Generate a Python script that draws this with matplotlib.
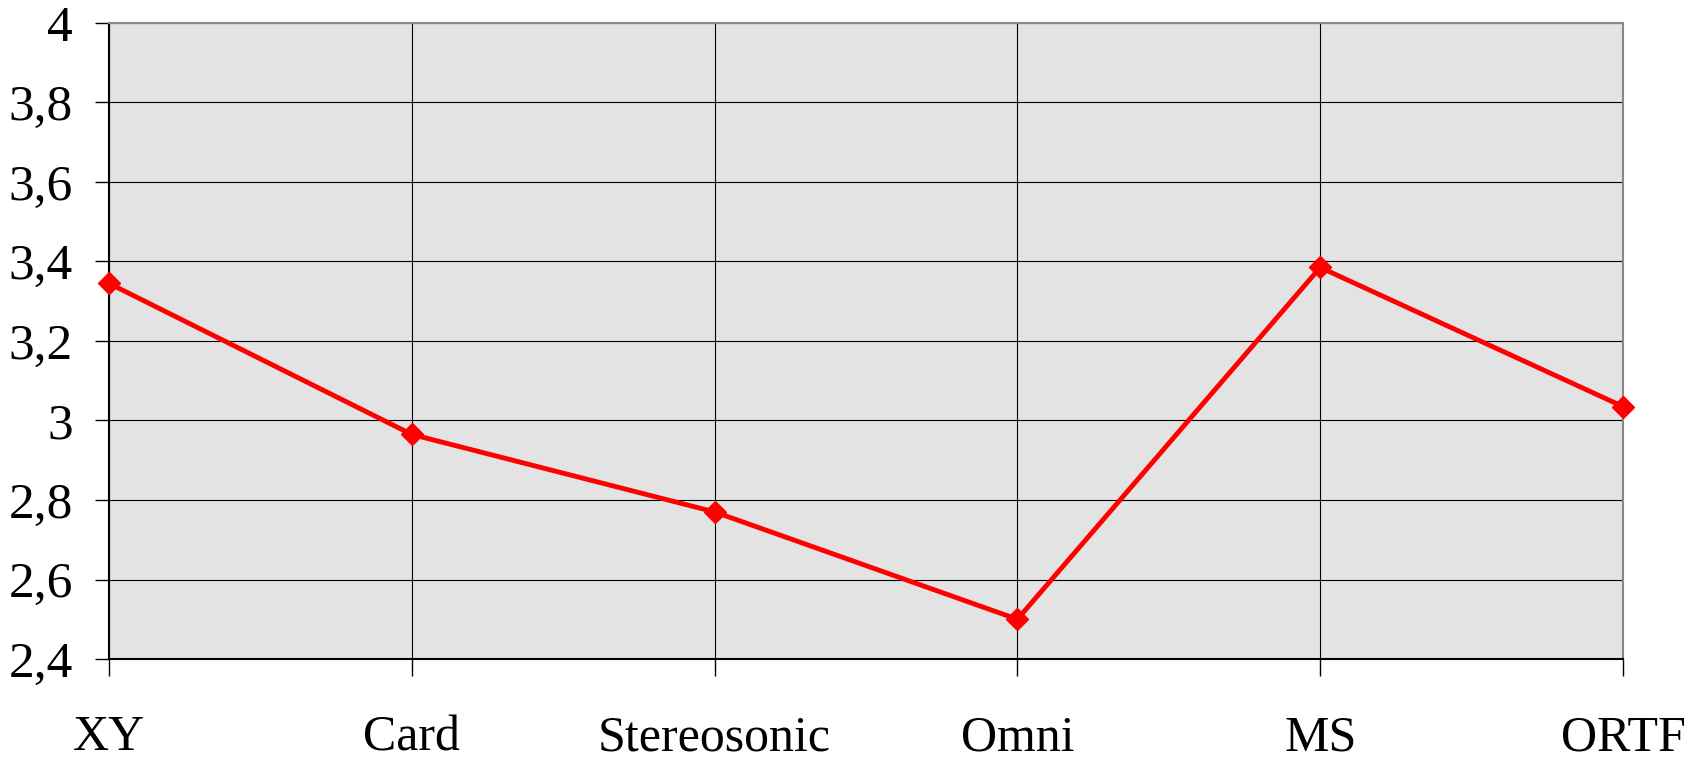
import matplotlib
matplotlib.use('Agg')
import matplotlib.pyplot as plt

# Data
categories = ['XY', 'Card', 'Stereosonic', 'Omni', 'MS', 'ORTF']
values = [3.345, 2.965, 2.77, 2.50, 3.385, 3.035]
y_ticks = [2.4, 2.6, 2.8, 3.0, 3.2, 3.4, 3.6, 3.8, 4.0]
y_labels = ['2,4', '2,6', '2,8', '3', '3,2', '3,4', '3,6', '3,8', '4']

plt.rcParams['font.family'] = ['Liberation Serif', 'DejaVu Serif']

fig = plt.figure(figsize=(17.02, 7.64), dpi=100)
ax = fig.add_axes([0.064, 0.1374, 0.8896, 0.8326])
ax.set_facecolor('#e3e3e3')

x = list(range(len(categories)))
ax.plot(x, values, color='#ff0000', linewidth=3.5, marker='D', markersize=11,
        zorder=3, clip_on=False)

ax.set_xlim(0, len(categories) - 1)
ax.set_ylim(2.4, 4.0)
ax.set_xticks(x)
ax.set_xticklabels(categories, fontsize=36)
ax.set_yticks(y_ticks)
ax.set_yticklabels(y_labels, fontsize=37)

ax.grid(True, color='black', linewidth=0.8)
ax.set_axisbelow(True)

ax.tick_params(axis='x', direction='out', length=12, width=1, pad=28)
ax.tick_params(axis='y', direction='out', length=10, width=1, pad=16)

for side in ['left', 'bottom']:
    ax.spines[side].set_color('black')
    ax.spines[side].set_linewidth(1.5)
for side in ['top', 'right']:
    ax.spines[side].set_color('#888888')
    ax.spines[side].set_linewidth(1.5)

fig.savefig('out.png', dpi=100)
